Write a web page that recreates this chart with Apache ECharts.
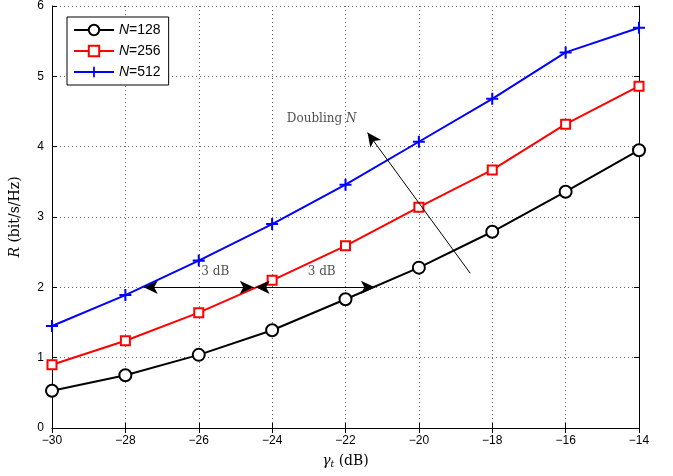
<!DOCTYPE html>
<html><head><meta charset="utf-8">
<script src="https://cdn.jsdelivr.net/npm/echarts@6/dist/echarts.min.js"></script>
<style>html,body{margin:0;padding:0;background:#fff}#c{width:673px;height:476px}</style>
</head><body><div id="c"></div>
<script>
const xValues = [-30, -28, -26, -24, -22, -20, -18, -16, -14];
const n128 = [0.53, 0.75, 1.04, 1.39, 1.83, 2.28, 2.79, 3.36, 3.95];
const n256 = [0.90, 1.24, 1.64, 2.10, 2.59, 3.14, 3.67, 4.32, 4.86];
const n512 = [1.45, 1.89, 2.38, 2.90, 3.46, 4.07, 4.68, 5.34, 5.69];
const seriesNames = ['128', '256', '512'];
const xTicks = [-30, -28, -26, -24, -22, -20, -18, -16, -14];
const yTicks = [0, 1, 2, 3, 4, 5, 6];

const plusPath = 'path://M-0.17,-1 L0.17,-1 L0.17,-0.17 L1,-0.17 L1,0.17 L0.17,0.17 L0.17,1 L-0.17,1 L-0.17,0.17 L-1,0.17 L-1,-0.17 L-0.17,-0.17 Z';
const chart = echarts.init(document.getElementById('c'));
const pair = (arr) => xValues.map((x, i) => [x, arr[i]]);
const minus = v => String(v).replace('-', '\u2212');
const axisLine = {show: true, lineStyle: {color: '#000', width: 1}};
const option = {
  animation: false,
  backgroundColor: '#fff',
  grid: {left: 50, right: 34, top: 6, bottom: 48},
  legend: {
    orient: 'vertical', left: 67, top: 17,
    borderColor: '#000', borderWidth: 1, backgroundColor: '#fff',
    padding: [6, 8, 6, 6], itemGap: 7, itemWidth: 40, itemHeight: 13,
    data: seriesNames.map(n => 'N=' + n),
    formatter: name => '{i|N}{t|' + name.slice(1) + '}',
    textStyle: {
      rich: {
        i: {fontStyle: 'italic', fontFamily: 'Liberation Sans', fontSize: 14, color: '#000'},
        t: {fontFamily: 'Liberation Sans', fontSize: 14, color: '#000'}
      }
    }
  },
  xAxis: [{
    type: 'value', min: -30, max: -14, interval: 2,
    name: '{g|γ}{s|t}{r| (dB)}', nameLocation: 'middle', nameGap: 26,
    nameTextStyle: {rich: {
      g: {fontFamily: 'DejaVu Serif', fontStyle: 'italic', fontSize: 14, color: '#000'},
      s: {fontFamily: 'DejaVu Serif', fontStyle: 'italic', fontSize: 9, color: '#000', verticalAlign: 'bottom', padding: [6, 0, 0, 0]},
      r: {fontFamily: 'DejaVu Serif', fontSize: 14, color: '#000'}
    }},
    axisLine: axisLine,
    axisTick: {inside: true, length: 5, lineStyle: {color: '#000'}},
    axisLabel: {formatter: minus, color: '#000', fontFamily: 'Liberation Sans', fontSize: 12, margin: 7},
    splitLine: {show: true, lineStyle: {type: [1, 3], color: '#666', width: 1}}
  }, {
    type: 'value', min: -30, max: -14, interval: 2, position: 'top',
    axisLine: axisLine, axisTick: {inside: true, length: 5, lineStyle: {color: '#000'}},
    axisLabel: {show: false}, splitLine: {show: false}
  }],
  yAxis: [{
    type: 'value', min: 0, max: 6, interval: 1,
    name: '{i|R}{r| (bit/s/Hz)}', nameLocation: 'middle', nameGap: 30, nameRotate: 90,
    nameTextStyle: {rich: {
      i: {fontFamily: 'DejaVu Serif', fontStyle: 'italic', fontSize: 14, color: '#000'},
      r: {fontFamily: 'DejaVu Serif', fontSize: 14, color: '#000'}
    }},
    axisLine: axisLine,
    axisTick: {inside: true, length: 5, lineStyle: {color: '#000'}},
    axisLabel: {color: '#000', fontFamily: 'Liberation Sans', fontSize: 12, margin: 8},
    splitLine: {show: true, lineStyle: {type: [1, 3], color: '#666', width: 1}}
  }, {
    type: 'value', min: 0, max: 6, interval: 1, position: 'right',
    axisLine: axisLine, axisTick: {inside: true, length: 5, lineStyle: {color: '#000'}},
    axisLabel: {show: false}, splitLine: {show: false}
  }],
  series: [
    {
      name: 'N=128', type: 'line', data: pair(n128), color: '#000',
      symbol: 'circle', symbolSize: 12, showAllSymbol: true,
      lineStyle: {color: '#000', width: 2},
      itemStyle: {color: '#fff', borderColor: '#000', borderWidth: 2},
      z: 3,
      markLine: {
        silent: true, symbol: ['arrow', 'arrow'], symbolSize: [10, 14],
        lineStyle: {color: '#000', width: 1, type: 'solid'},
        label: {show: false},
        data: [
          [{coord: [-27.5, 2]}, {coord: [-24.5, 2]}],
          [{coord: [-24.45, 2]}, {coord: [-21.2, 2]}],
          [{coord: [-18.6, 2.2], symbol: 'none'}, {coord: [-21.4, 4.2], symbol: 'arrow'}]
        ]
      }
    },
    {
      name: 'N=256', type: 'line', data: pair(n256), color: '#f00',
      symbol: 'rect', symbolSize: 9, showAllSymbol: true,
      lineStyle: {color: '#f00', width: 2},
      itemStyle: {color: '#fff', borderColor: '#f00', borderWidth: 2},
      z: 3
    },
    {
      name: 'N=512', type: 'line', data: pair(n512), color: '#00f',
      symbol: plusPath, symbolSize: 12, showAllSymbol: true,
      lineStyle: {color: '#00f', width: 2},
      itemStyle: {color: '#00f'},
      z: 3
    },
    {
      name: 'annotations', type: 'scatter', symbolSize: 0, silent: true,
      data: [
        {value: [-25.55, 2.22], label: {formatter: '3 dB'}},
        {value: [-22.65, 2.22], label: {formatter: '3 dB'}},
        {value: [-22.65, 4.4], label: {formatter: '{r|Doubling }{i|N}'}}
      ],
      label: {show: true, position: 'inside', color: '#222', fontFamily: 'DejaVu Serif', fontSize: 12,
        rich: {r: {fontFamily: 'DejaVu Serif', fontSize: 12, color: '#222'},
               i: {fontFamily: 'DejaVu Serif', fontStyle: 'italic', fontSize: 12, color: '#222'}}}
    }
  ]
};
chart.setOption(option);
</script></body></html>
